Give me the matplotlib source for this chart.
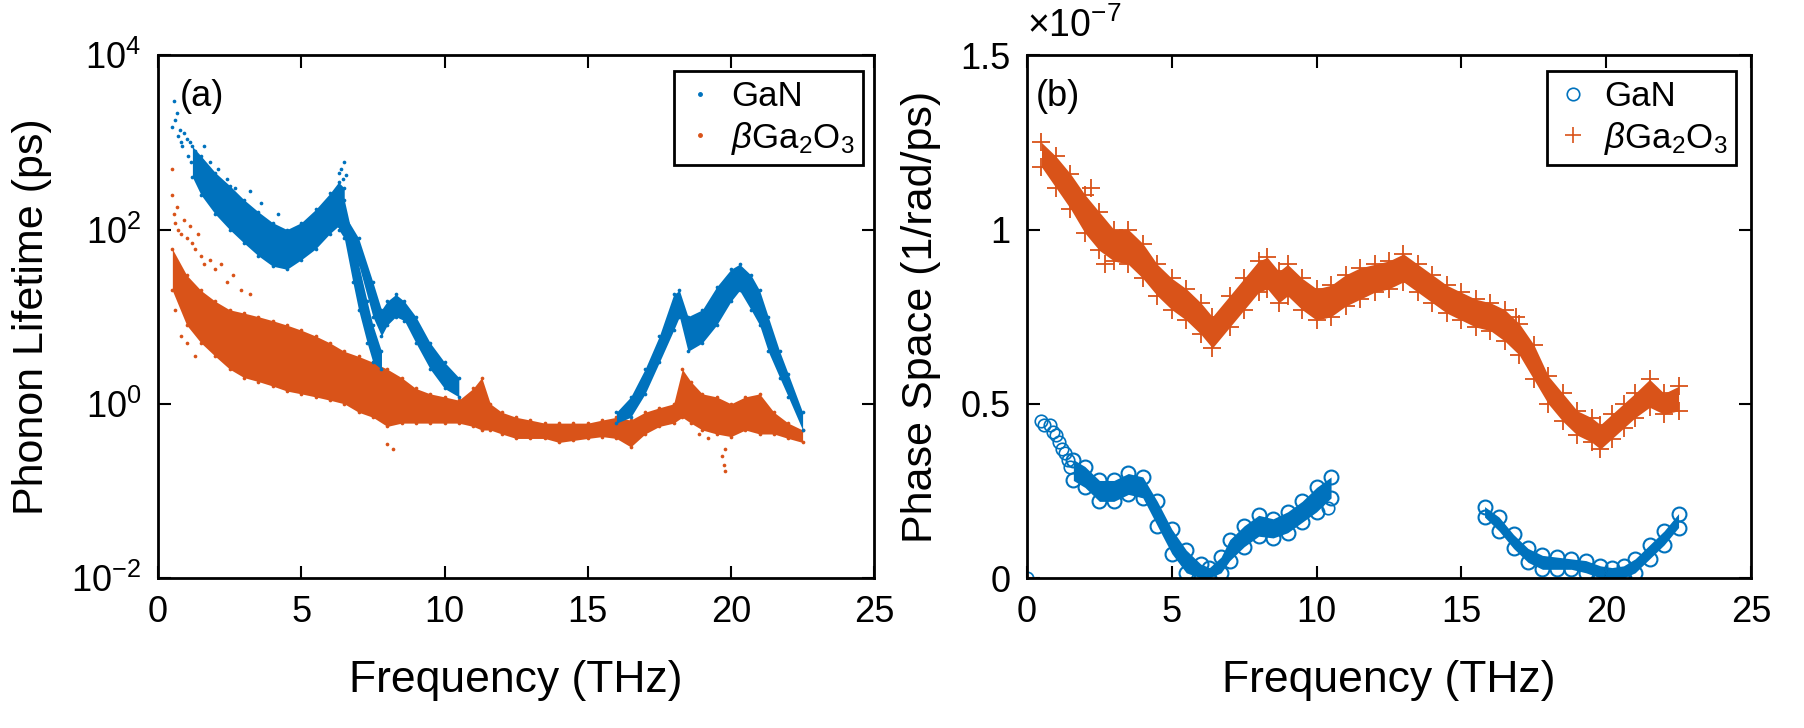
import matplotlib.pyplot as plt
from matplotlib.lines import Line2D
from matplotlib.ticker import FixedLocator, NullLocator

plt.rcParams['font.family'] = ['Liberation Sans', 'DejaVu Sans']
plt.rcParams['mathtext.fontset'] = 'custom'
plt.rcParams['mathtext.rm'] = 'Liberation Sans'
plt.rcParams['mathtext.it'] = 'Liberation Sans:italic'

BLUE = '#0072BD'
RED = '#D95319'

# (a) phonon lifetime (ps): dense core of each band, plus the loose points
gan1_f = [1.2, 1.5, 2.0, 2.5, 3.0, 3.5, 4.0, 4.5, 5.0, 5.5, 6.0, 6.3, 6.5]
gan1_lo = [400, 250, 150, 100, 70, 50, 38, 35, 45, 60, 90, 110, 100]
gan1_hi = [900, 700, 450, 320, 220, 160, 120, 100, 120, 170, 260, 350, 300]

gan2_f = [6.3, 6.5, 6.8, 7.0, 7.3, 7.5, 7.8]
gan2_lo = [100, 80, 25, 12, 5, 3, 2.5]
gan2_hi = [200, 220, 80, 40, 15, 8, 4]

gan3_f = [6.5, 7.0, 7.5, 7.8, 8.0, 8.3, 8.6, 9.0, 9.5, 10.0, 10.5]
gan3_lo = [90, 40, 10, 6, 8, 10, 9, 5, 2.5, 1.5, 1.2]
gan3_hi = [150, 80, 25, 12, 15, 18, 15, 10, 5, 3, 2]

gan4_f = [16.0, 16.5, 17.0, 17.5, 18.0, 18.2, 18.5, 19.0, 19.5, 20.0, 20.3, 20.7,
          21.0, 21.3, 21.7, 22.0, 22.5]
gan4_lo = [0.6, 0.7, 1.3, 3, 7, 10, 4, 5, 8, 15, 20, 12, 8, 4, 2, 1.2, 0.5]
gan4_hi = [0.8, 1.2, 2.5, 6, 18, 20, 10, 12, 22, 35, 40, 30, 20, 10, 4, 2.2, 0.8]

gan_pts_f = [0.55, 0.6, 0.5, 0.65, 0.7, 0.75, 0.8, 0.85, 0.9, 1.0, 1.05, 1.1, 1.15,
             1.3, 1.4, 1.6, 1.8, 2.1, 2.4, 2.7, 3.2, 3.6, 4.2, 6.3, 6.4, 6.45, 6.5,
             6.55, 7.2, 7.6]
gan_pts_t = [3000, 1800, 1500, 2200, 1200, 1400, 1000, 900, 1300, 1100, 700, 1000,
             600, 800, 500, 900, 600, 500, 380, 300, 280, 200, 150, 450, 500, 380,
             600, 420, 30, 4]

ga_f = [0.5, 1.0, 1.5, 2.0, 2.5, 3.0, 3.5, 4.0, 4.5, 5.0, 5.5, 6.0, 6.5, 7.0, 7.5,
        8.0, 8.5, 9.0, 9.5, 10.0, 10.5, 11.0, 11.3, 11.6, 12.0, 12.5, 13.0, 13.5,
        14.0, 14.5, 15.0, 15.5, 16.0, 16.5, 17.0, 17.5, 18.0, 18.3, 18.6, 19.0, 19.5,
        20.0, 20.5, 21.0, 21.5, 22.0, 22.5]
ga_lo = [20, 8, 5, 3.5, 2.5, 2.0, 1.8, 1.6, 1.4, 1.3, 1.2, 1.1, 1.0, 0.8, 0.7,
         0.55, 0.6, 0.6, 0.6, 0.6, 0.6, 0.55, 0.5, 0.5, 0.45, 0.4, 0.4, 0.4, 0.36,
         0.38, 0.4, 0.42, 0.4, 0.32, 0.45, 0.55, 0.6, 0.7, 0.6, 0.5, 0.45, 0.42, 0.5,
         0.45, 0.45, 0.4, 0.36]
ga_hi = [60, 30, 20, 15, 12, 11, 10, 9, 8, 7, 6, 5, 4, 3.5, 3, 2.5, 2, 1.5, 1.3,
         1.2, 1.1, 1.5, 2.0, 1.0, 0.8, 0.7, 0.65, 0.6, 0.6, 0.6, 0.6, 0.65, 0.7, 0.65,
         0.8, 0.9, 1.0, 2.5, 1.8, 1.3, 1.2, 1.0, 1.2, 1.3, 0.8, 0.6, 0.5]

ga_pts_f = [0.5, 0.5, 0.55, 0.6, 0.65, 0.7, 0.8, 0.9, 1.0, 1.1, 1.2, 1.3, 1.4, 1.5,
            1.6, 1.8, 2.0, 2.2, 2.4, 2.6, 2.9, 3.2, 0.6, 0.8, 1.0, 1.3, 8.0, 8.2,
            19.7, 19.75, 19.8, 19.8, 18.9, 19.2, 19.4]
ga_pts_t = [500, 250, 150, 120, 180, 100, 90, 130, 80, 110, 70, 60, 90, 50, 40, 45,
            35, 40, 25, 30, 20, 18, 12, 6, 5, 3.5, 0.35, 0.3, 0.25, 0.2, 0.17, 0.3,
            0.45, 0.4, 0.5]

# (b) phase space, in units of 1e-7 1/rad/ps
ps_ga_f = [0.5, 1.0, 1.5, 2.0, 2.5, 3.0, 3.5, 4.0, 4.5, 5.0, 5.5, 6.0, 6.4, 7.0, 7.5,
           8.0, 8.3, 8.7, 9.0, 9.5, 10.0, 10.5, 11.0, 11.5, 12.0, 12.5, 13.0, 13.5,
           14.0, 14.5, 15.0, 15.5, 16.0, 16.5, 17.0, 17.5, 18.0, 18.5, 19.0, 19.5,
           19.8, 20.2, 20.6, 21.0, 21.5, 22.0, 22.5]
ps_ga_lo = [1.18, 1.12, 1.06, 0.99, 0.94, 0.91, 0.90, 0.86, 0.81, 0.77, 0.74, 0.70,
            0.66, 0.72, 0.77, 0.82, 0.83, 0.79, 0.81, 0.77, 0.74, 0.75, 0.78, 0.80,
            0.82, 0.83, 0.85, 0.82, 0.79, 0.76, 0.74, 0.72, 0.71, 0.68, 0.64, 0.57,
            0.50, 0.45, 0.41, 0.39, 0.37, 0.40, 0.43, 0.46, 0.49, 0.47, 0.48]
ps_ga_hi = [1.25, 1.21, 1.16, 1.10, 1.05, 1.00, 1.00, 0.96, 0.90, 0.86, 0.83, 0.79,
            0.75, 0.81, 0.86, 0.91, 0.92, 0.88, 0.90, 0.86, 0.83, 0.84, 0.87, 0.89,
            0.90, 0.91, 0.93, 0.90, 0.87, 0.84, 0.82, 0.80, 0.79, 0.77, 0.73, 0.67,
            0.58, 0.53, 0.48, 0.46, 0.44, 0.47, 0.50, 0.53, 0.57, 0.53, 0.55]
ps_ga_pts_f = [0.0, 2.2, 2.7, 16.9]
ps_ga_pts_v = [0.0, 1.12, 0.90, 0.75]

ps_gan1_f = [1.6, 2.0, 2.5, 3.0, 3.5, 4.0, 4.5, 5.0, 5.5, 6.0, 6.3, 6.7, 7.0, 7.5,
             8.0, 8.5, 9.0, 9.5, 10.0, 10.5]
ps_gan1_lo = [0.28, 0.26, 0.22, 0.22, 0.24, 0.23, 0.15, 0.07, 0.015, 0.0, 0.0, 0.015,
              0.05, 0.09, 0.12, 0.115, 0.13, 0.16, 0.19, 0.23]
ps_gan1_hi = [0.34, 0.32, 0.28, 0.28, 0.30, 0.29, 0.22, 0.14, 0.08, 0.04, 0.03, 0.06,
              0.11, 0.15, 0.18, 0.17, 0.19, 0.22, 0.26, 0.29]
ps_gan_pts_f = [0.0, 0.5, 0.6, 0.8, 0.9, 1.0, 1.1, 1.2, 1.3, 1.4, 1.5, 10.4]
ps_gan_pts_v = [0.0, 0.45, 0.44, 0.44, 0.42, 0.41, 0.39, 0.37, 0.36, 0.34, 0.32, 0.20]

ps_gan2_f = [15.8, 16.3, 16.8, 17.3, 17.8, 18.3, 18.8, 19.3, 19.8, 20.2, 20.6, 21.0,
             21.5, 22.0, 22.5]
ps_gan2_lo = [0.175, 0.135, 0.085, 0.045, 0.025, 0.025, 0.025, 0.015, 0.0, 0.0, 0.0,
              0.015, 0.055, 0.095, 0.145]
ps_gan2_hi = [0.205, 0.175, 0.125, 0.085, 0.065, 0.06, 0.055, 0.05, 0.035, 0.03,
              0.035, 0.055, 0.095, 0.135, 0.185]

fig = plt.figure(figsize=(18.04, 7.28), dpi=100)
ax1 = fig.add_axes([0.0876, 0.206, 0.397, 0.718])
ax2 = fig.add_axes([0.5693, 0.206, 0.4013, 0.718])

# ---- (a) lifetime, log scale
for f, lo, hi, c in [(ga_f, ga_lo, ga_hi, RED),
                     (gan1_f, gan1_lo, gan1_hi, BLUE),
                     (gan2_f, gan2_lo, gan2_hi, BLUE),
                     (gan3_f, gan3_lo, gan3_hi, BLUE),
                     (gan4_f, gan4_lo, gan4_hi, BLUE)]:
    ax1.fill_between(f, lo, hi, color=c, lw=0)
    ax1.scatter(f, lo, s=7, color=c, lw=0)
    ax1.scatter(f, hi, s=7, color=c, lw=0)
ax1.scatter(ga_pts_f, ga_pts_t, s=7, color=RED, lw=0)
ax1.scatter(gan_pts_f, gan_pts_t, s=7, color=BLUE, lw=0)

ax1.set_yscale('log')
ax1.set_xlim(0, 25)
ax1.set_ylim(1e-2, 1e4)
ax1.yaxis.set_major_locator(FixedLocator([1e-2, 1e0, 1e2, 1e4]))
ax1.yaxis.set_minor_locator(NullLocator())
ax1.set_yticklabels(['$10^{-2}$', '$10^{0}$', '$10^{2}$', '$10^{4}$'])
ax1.set_ylabel('Phonon Lifetime (ps)', fontsize=31, labelpad=14)
ax1.text(0.03, 0.955, '(a)', transform=ax1.transAxes, fontsize=26, va='top')

leg_a = [Line2D([], [], ls='none', marker='.', ms=5, color=BLUE),
         Line2D([], [], ls='none', marker='.', ms=5, color=RED)]
l1 = ax1.legend(leg_a, ['GaN', r'$\beta$Ga$_2$O$_3$'], loc='upper right',
                bbox_to_anchor=(0.985, 0.97), borderaxespad=0, fontsize=25,
                fancybox=False, framealpha=1, edgecolor='black', handlelength=1.0,
                handletextpad=0.4, borderpad=0.25, labelspacing=0.2)
l1.get_frame().set_linewidth(2)

# ---- (b) phase space
ax2.fill_between(ps_ga_f, ps_ga_lo, ps_ga_hi, color=RED, lw=0)
ax2.plot(ps_ga_f, ps_ga_lo, '+', color=RED, ms=13, mew=1.3)
ax2.plot(ps_ga_f, ps_ga_hi, '+', color=RED, ms=13, mew=1.3)
ax2.plot(ps_ga_pts_f, ps_ga_pts_v, '+', color=RED, ms=13, mew=1.3)

for f, lo, hi in [(ps_gan1_f, ps_gan1_lo, ps_gan1_hi),
                  (ps_gan2_f, ps_gan2_lo, ps_gan2_hi)]:
    ax2.fill_between(f, lo, hi, color=BLUE, lw=0)
    ax2.plot(f, lo, 'o', mfc='none', mec=BLUE, ms=10, mew=1.5)
    ax2.plot(f, hi, 'o', mfc='none', mec=BLUE, ms=10, mew=1.5)
ax2.plot(ps_gan_pts_f, ps_gan_pts_v, 'o', mfc='none', mec=BLUE, ms=9, mew=1.2)

ax2.set_xlim(0, 25)
ax2.set_ylim(0, 1.5)
ax2.set_yticks([0, 0.5, 1, 1.5])
ax2.set_yticklabels(['0', '0.5', '1', '1.5'])
ax2.set_ylabel('Phase Space (1/rad/ps)', fontsize=31, labelpad=14)
ax2.text(0.0, 1.02, r'$\times10^{-7}$', transform=ax2.transAxes, fontsize=27,
         va='bottom', ha='left')
ax2.text(0.012, 0.955, '(b)', transform=ax2.transAxes, fontsize=26, va='top')

leg_b = [Line2D([], [], ls='none', marker='o', mfc='none', mec=BLUE, ms=9, mew=1.2),
         Line2D([], [], ls='none', marker='+', color=RED, ms=12, mew=1.2)]
l2 = ax2.legend(leg_b, ['GaN', r'$\beta$Ga$_2$O$_3$'], loc='upper right',
                bbox_to_anchor=(0.98, 0.97), borderaxespad=0, fontsize=25,
                fancybox=False, framealpha=1, edgecolor='black', handlelength=1.0,
                handletextpad=0.4, borderpad=0.25, labelspacing=0.2)
l2.get_frame().set_linewidth(2)

for ax in (ax1, ax2):
    ax.set_xticks([0, 5, 10, 15, 20, 25])
    ax.set_xlabel('Frequency (THz)', fontsize=32, labelpad=22)
    ax.tick_params(direction='in', top=True, right=True, length=9, width=1.5,
                   labelsize=26, pad=12)
    for s in ax.spines.values():
        s.set_linewidth(2)

fig.savefig('out.png', dpi=100)
